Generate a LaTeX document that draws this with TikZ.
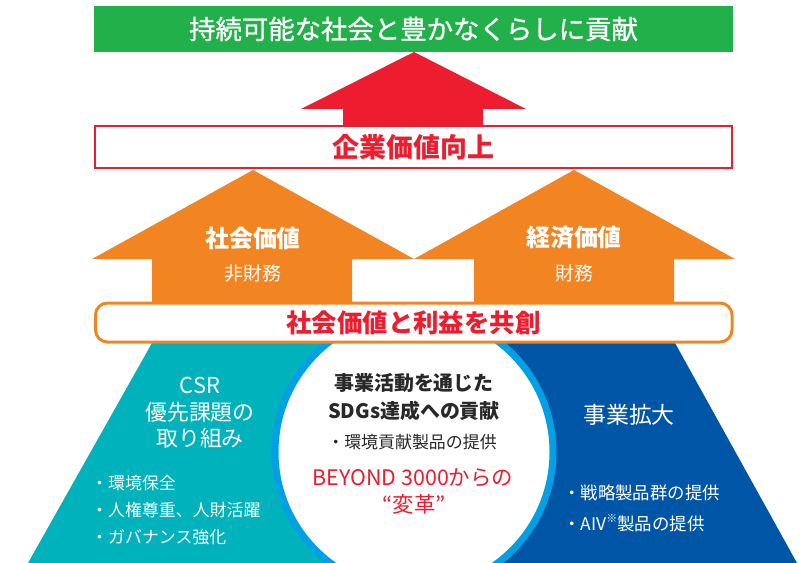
\documentclass[tikz,border=0pt]{standalone}
\usepackage{fontspec}
\setmainfont{Noto Sans CJK JP}
\newfontfamily\jpm{Noto Sans CJK JP}[FakeBold=1]
\definecolor{cgreen}{RGB}{34,176,75}
\definecolor{cred}{RGB}{237,28,46}
\definecolor{corange}{RGB}{242,133,34}
\definecolor{cteal}{RGB}{0,178,187}
\definecolor{cblue}{RGB}{0,86,166}
\definecolor{cring}{RGB}{0,160,228}
\definecolor{cdark}{RGB}{40,40,40}
\tikzset{
  wtxt/.style={text=white, inner sep=0pt, font=\fontsize{#1}{#1}\selectfont},
  rtxt/.style={text=cred, inner sep=0pt, font=\fontsize{#1}{#1}\selectfont\bfseries},
  dtxt/.style={text=cdark, inner sep=0pt, font=\fontsize{#1}{#1}\selectfont},
  ltxt/.style={text=white, inner sep=0pt, anchor=west, font=\fontsize{#1}{#1}\selectfont},
}
\begin{document}
\begin{tikzpicture}[x=1bp,y=-1bp]
\useasboundingbox (0,0) rectangle (808,563);
% bottom trapezoid + circle
\begin{scope}
\clip (0,0) rectangle (808,563);
\fill[cteal] (152,343) -- (414,343) -- (414,563) -- (28,563) -- cycle;
\fill[cblue] (414,343) -- (675,343) -- (797,563) -- (414,563) -- cycle;
\draw[cring, line width=7bp, fill=white] (414,452) circle[radius=139];
\end{scope}
% orange arrows
\fill[corange] (253,170) -- (414,259) -- (352,259) -- (352,306) -- (152,306) -- (152,259) -- (92,259) -- cycle;
\fill[corange] (574,170) -- (735,259) -- (674,259) -- (674,306) -- (474,306) -- (474,259) -- (414,259) -- cycle;
% red arrow
\fill[cred] (414,52) -- (526,109) -- (483,109) -- (483,127) -- (343,127) -- (343,109) -- (301,109) -- cycle;
% green box
\fill[cgreen] (94,6) rectangle (733,52);
\node[text=white, inner sep=0pt, font=\fontsize{26.5}{26.5}\selectfont\jpm] (title) at (413.5,29) {持続可能な社会と豊かなくらしに貢献};
% red box
\draw[cred, line width=2bp, fill=white] (95,126) rectangle (732,168);
\node[rtxt=27] (kigyo) at (413.5,147) {企業価値向上};
% rounded box
\draw[corange, line width=3bp, fill=white, rounded corners=12bp] (95.5,303) rectangle (732,342);
\node[rtxt=25.5] (kyoso) at (413.5,323) {社会価値と利益を共創};
% arrow labels
\node[wtxt=24, font=\fontsize{24}{24}\selectfont\bfseries] (shakai) at (253,238) {社会価値};
\node[wtxt=19] (hizaimu) at (253,273) {非財務};
\node[wtxt=24, font=\fontsize{24}{24}\selectfont\bfseries] (keizai) at (574,238) {経済価値};
\node[wtxt=19] (zaimu) at (574,273) {財務};
% teal text
\node[wtxt=22, align=center, font=\fontsize{22}{26.5}\selectfont] (csr) at (200,413) {CSR\\優先課題の\\取り組み};
\node[ltxt=17] (b1) at (91,483) {・環境保全};
\node[ltxt=17] (b2) at (91,510) {・人権尊重、人財活躍};
\node[ltxt=17] (b3) at (91,537) {・ガバナンス強化};
% circle text
\node[dtxt=20, font=\fontsize{20}{20}\selectfont\bfseries] (c1) at (414,383) {事業活動を通じた};
\node[dtxt=20, font=\fontsize{20}{20}\selectfont\bfseries] (c2) at (414,411) {SDGs達成への貢献};
\node[dtxt=17] (c3) at (412,442) {・環境貢献製品の提供};
\node[text=cred, inner sep=0pt, font=\fontsize{21.5}{21.5}\selectfont] (c4) at (413,478) {BEYOND 3000からの};
\node[text=cred, inner sep=0pt, font=\fontsize{21.5}{21.5}\selectfont] (c5) at (414,504) {“変革”};
% blue text
\node[wtxt=23] (kakudai) at (629,415) {事業拡大};
\node[ltxt=17.5] (d1) at (563,493) {・戦略製品群の提供};
\node[ltxt=17.5] (d2) at (563,523) {・AIV\raisebox{0.45em}{\fontsize{11}{11}\selectfont ※}製品の提供};
\end{tikzpicture}
\end{document}
